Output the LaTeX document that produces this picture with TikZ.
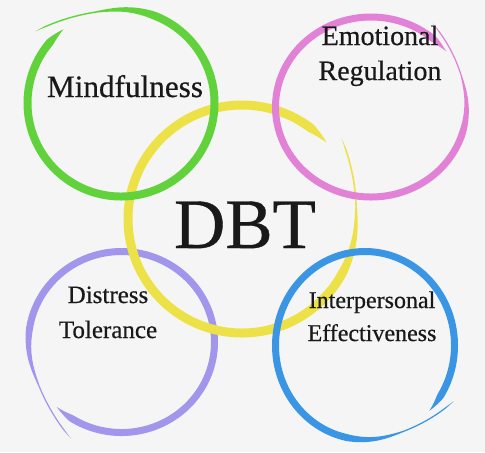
\documentclass[tikz,border=0pt]{standalone}
\usepackage{fontspec}
\setmainfont{Liberation Serif}
\newfontfamily\lserif[FakeBold=0.5]{Liberation Serif}
\definecolor{bgc}{RGB}{245,245,245}
\definecolor{cgreen}{RGB}{98,210,60}
\definecolor{cpink}{RGB}{226,130,214}
\definecolor{cyellow}{RGB}{236,226,72}
\definecolor{cpurple}{RGB}{162,150,236}
\definecolor{cblue}{RGB}{58,150,228}
% #1 cx, #2 cy, #3 Rx, #4 Ry, #5 start angle, #6 end angle, #7 width, #8 tail spread, #9 colour
\newcommand\brushring[9]{%
  \fill[#9] plot[domain=0:1,samples=220,variable=\u]
    ({#1+(#3+#8*br(\u)+#7*bw(\u)/2)*cos(#5+(#6-#5)*\u)},
     {#2-(#4+#8*br(\u)+#7*bw(\u)/2)*sin(#5+(#6-#5)*\u)})
  -- plot[domain=0:1,samples=220,variable=\u]
    ({#1+(#3+#8*br(1-\u)-#7*bw(1-\u)/2)*cos(#5+(#6-#5)*(1-\u))},
     {#2-(#4+#8*br(1-\u)-#7*bw(1-\u)/2)*sin(#5+(#6-#5)*(1-\u))})
  -- cycle;}
\begin{document}
\begin{tikzpicture}[x=0.5pt,y=-0.5pt,
  declare function={
    bw(\u)=min(1,\u/0.03)*min(1,max(0.18,(0.93-\u)/0.12))*min(1,(1-\u)/0.015);
    br(\u)=max(0,(\u-0.88)/0.12)^2;
  },
  lbl/.style={inner sep=0pt,anchor=base,align=center,text=black!90},
  bigfont/.style={font=\lserif\fontsize{15.6}{19}\selectfont},
  midfont/.style={font=\lserif\fontsize{14}{17.5}\selectfont},
  smallfont/.style={font=\lserif\fontsize{12.5}{17.5}\selectfont},
  ipfont/.style={font=\lserif\fontsize{12}{16.5}\selectfont},
  dbtfont/.style={font=\lserif\fontsize{35.5}{40}\selectfont}]
\fill[bgc] (0,0) rectangle (485,452);
\useasboundingbox (0,0) rectangle (485,452);
% rings
\brushring{121.5}{342}{93}{90.5}{226}{603}{7}{18}{cpurple}
\brushring{242}{219}{114}{114}{42}{399}{9}{14}{cyellow}
\brushring{121}{103}{93.5}{93.5}{128}{500}{8}{18}{cgreen}
\brushring{371}{107}{95.5}{90}{38}{415}{7}{12}{cpink}
\brushring{365}{345.5}{89.5}{94}{316}{689}{7}{14}{cblue}
% labels
\node[lbl,bigfont] (mind) at (125,97) {Mindfulness};
\node[lbl,midfont] (emo) at (380,80) {Emotional\\Regulation};
\node[lbl,dbtfont] (dbt) at (245,248) {DBT};
\node[lbl,smallfont] (dist) at (108,338) {Distress\\Tolerance};
\node[lbl,ipfont] (inter) at (372,341) {Interpersonal\\Effectiveness};
\end{tikzpicture}
\end{document}
